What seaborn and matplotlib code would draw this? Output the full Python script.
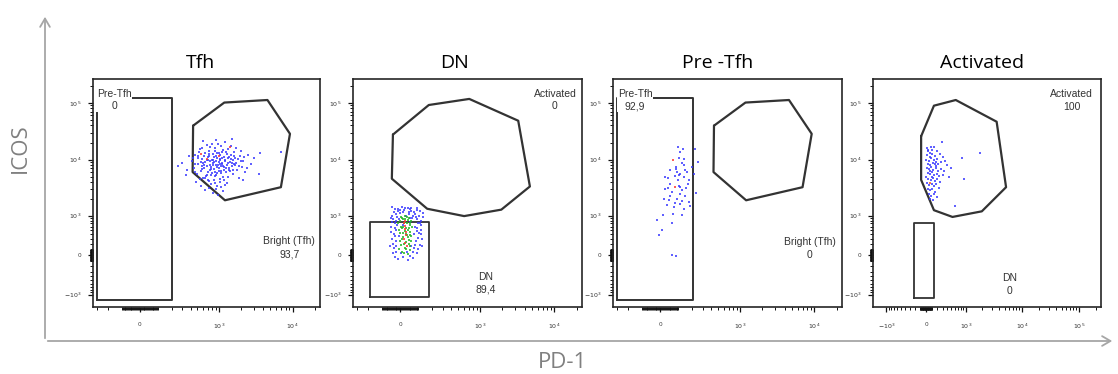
import matplotlib
matplotlib.use("Agg")
import matplotlib.pyplot as plt
import seaborn as sns
from matplotlib.patches import FancyArrowPatch

sns.set_theme(style="white")
plt.rcParams['font.family'] = ['Open Sans', 'DejaVu Sans']

# ---- datos (PD-1, ICOS) ----
titulos = ["Tfh", "DN", "Pre -Tfh", "Activated"]

# panel Tfh: poblacion dentro del gate Bright (Tfh)
tfh_pts = [
    (420, 9500), (450, 7200), (470, 12000), (500, 5600), (520, 8300), (540, 15500), (560, 6400), (580, 10400), (600, 4700), (610, 8900),
    (630, 7000), (650, 13000), (660, 5200), (680, 9800), (700, 6100), (710, 11200), (730, 4200), (750, 8000), (760, 16800), (780, 7500),
    (800, 10000), (810, 5800), (830, 12500), (850, 6800), (860, 9000), (880, 3900), (890, 14000), (900, 8200), (920, 5400), (940, 10800),
    (950, 7300), (970, 19000), (990, 6200), (1000, 9200), (1020, 4600), (1040, 12000), (1060, 7800), (1080, 5900), (1100, 10500), (1120, 8500),
    (1150, 15000), (1180, 6600), (1200, 3600), (1230, 9600), (1260, 7100), (1290, 12800), (1320, 5000), (1350, 8800), (1390, 11000), (1420, 6300),
    (1460, 17500), (1500, 7700), (1540, 9900), (1580, 5500), (1630, 13500), (1680, 8100), (1740, 6700), (1800, 10200), (1880, 4800), (1950, 11800),
    (2050, 7400), (2150, 9300), (2300, 6000), (2500, 12300), (2700, 8400), (560, 3400), (640, 2900), (720, 3200), (820, 2600), (900, 3000),
    (980, 2400), (1060, 3300), (1150, 2800), (700, 4400), (780, 3700), (600, 21000), (900, 22000), (1200, 20500), (1500, 23000), (800, 18500),
    (350, 6500), (300, 8600), (260, 7800), (380, 11500), (340, 5300), (480, 4100), (440, 10800), (530, 13800), (1700, 16000), (2000, 14500),
    (3600, 13200), (7000, 13700), (3500, 5500), (2100, 4300), (3000, 10500), (620, 11800), (740, 14500), (870, 6000), (1010, 13200), (1130, 4900),
    (680, 7600), (760, 9400), (840, 8600), (920, 11500), (1000, 7000), (1090, 8900), (1250, 6000), (1400, 9100), (1600, 11400), (560, 9100),
    (470, 6000), (520, 10800), (580, 7700), (640, 9200), (690, 5400), (740, 11800), (790, 6900), (840, 9700), (890, 5100), (930, 12900),
    (960, 8000), (1030, 10400), (1070, 6400), (1110, 13900), (1170, 7400), (1210, 9900), (1280, 8200), (1330, 10900), (1370, 7200), (1440, 12200),
    (1520, 8700), (1560, 6600), (1650, 10600), (1720, 8900), (1850, 7800), (1980, 9500), (2200, 11000), (2400, 7100), (650, 4800), (770, 5300),
    (860, 4300), (950, 3500), (1050, 4000), (1160, 4400), (1300, 3900), (580, 15800), (690, 18200), (880, 16300), (1080, 17600), (1320, 15200),
    (460, 8400), (510, 11400), (590, 6800), (720, 12600), (820, 7900), (910, 9600), (1030, 8400), (1190, 11300), (1360, 6700), (1620, 8300),
    (750, 6600), (850, 11000), (950, 5900), (1050, 9800), (1140, 7600), (620, 8000), (700, 10000), (1250, 13600), (1480, 10200), (540, 4500),
]
tfh_rojo = [(680, 10300), (1000, 11800), (560, 12500), (1400, 17000)]

# panel DN: columna cerca de cero
dn_azul = [
    (-30, 1300), (10, 1450), (60, 1380), (110, 1200), (-45, 1000), (130, 950), (-20, 800), (95, 850), (-50, 600), (120, 650),
    (-35, 400), (105, 420), (-40, 200), (110, 180), (-25, 60), (90, 30), (-10, -60), (40, -80), (70, -50), (0, 1100),
    (45, 1150), (80, 1050), (20, 1250), (-15, 950), (65, 900), (100, 700), (-30, 700), (-45, 300), (125, 300), (80, 600),
    (-20, 500), (55, 750), (30, 1000), (-5, 350), (85, 250), (15, 650), (-35, 120), (100, 100), (60, 150), (-25, 250),
    (35, 50), (75, 400), (115, 500), (-40, 850), (5, 40), (50, 1300), (-10, 1350), (90, 1250),
    (-35, 1150), (0, 1280), (40, 1400), (75, 1150), (105, 1000), (-50, 900), (115, 800), (-45, 750), (90, 550), (-30, 550),
    (120, 400), (-50, 450), (-20, 150), (75, 120), (15, -40), (55, -20), (-30, -30), (100, 320), (-40, 30), (110, 700),
    (-10, 1200), (60, 1200), (85, 950), (-25, 1050), (25, 1380), (95, 1400), (-45, 1450), (130, 1100), (-55, 150), (125, 150),
    (45, 1050), (70, 1000), (-15, 650), (95, 480), (-30, 350), (80, 180), (15, 1150), (50, 900), (-5, 850), (70, 50),
]
dn_verde = [
    (10, 900), (25, 750), (40, 820), (5, 600), (30, 550), (50, 650), (15, 420), (35, 380), (55, 450), (0, 250),
    (20, 200), (45, 280), (30, 100), (10, 50), (40, 20), (25, 980), (60, 350), (-5, 500), (50, 150), (20, 700),
    (0, 800), (15, 850), (45, 900), (60, 780), (35, 700), (-10, 700), (10, 550), (45, 560), (65, 600), (25, 480),
    (0, 420), (50, 380), (15, 330), (40, 330), (60, 250), (5, 180), (30, 240), (55, 90), (20, 30), (-5, 100),
    (35, 930), (25, 850), (5, 950), (40, 500), (15, 600), (30, 400), (45, 200), (10, 300), (25, 120), (50, 720),
]
dn_rojo = [(25, 620), (30, 450), (20, 300), (35, 150), (28, 800), (22, 700), (27, 530), (33, 370), (24, 220)]

# panel Pre-Tfh
pre_pts = [
    (100, 16600), (133, 15600), (222, 15200), (245, 9200), (126, 8800), (196, 7300), (148, 6500), (93, 6100), (114, 5700), (160, 6100),
    (27, 5000), (39, 4700), (79, 5100), (108, 5300), (136, 5000), (213, 5500), (172, 4300), (54, 3750), (103, 3500), (114, 3330),
    (155, 3120), (39, 3120), (63, 2700), (126, 2900), (228, 2580), (18, 2000), (50, 2270), (93, 2000), (126, 1880), (79, 1720),
    (36, 1550), (114, 1660), (172, 1760), (184, 1500), (69, 1070), (126, 1010), (14, 1010), (-18, 820), (63, 700), (9, 500),
    (-9, 376), (63, 0), (88, -17), (103, 10900), (141, 7900), (88, 7500), (54, 6500), (165, 3750), (110, 2450), (148, 2270),
    (73, 1420), (136, 1330), (45, 1930), (97, 4300), (27, 3000), (141, 10300), (114, 13400), (87, 6900),
]
pre_rojo = [(69, 10000), (83, 3250)]

# panel Activated
act_pts = [
    (10, 16000), (40, 15000), (80, 17000), (130, 16500), (200, 14500), (285, 20800), (20, 12000), (60, 13000), (110, 12500), (160, 11500),
    (240, 12800), (300, 11000), (0, 10000), (50, 9500), (90, 10500), (140, 9800), (190, 10200), (260, 9000), (350, 9600), (30, 8500),
    (70, 8000), (120, 8800), (170, 7800), (220, 8300), (400, 8200), (10, 7200), (45, 6800), (85, 7400), (125, 6500), (165, 7000),
    (210, 6300), (270, 6900), (330, 6200), (25, 5900), (60, 5500), (100, 6000), (140, 5300), (185, 5700), (230, 5100), (300, 5400),
    (5, 4900), (40, 4600), (80, 4300), (115, 4800), (150, 4200), (200, 4500), (250, 4000), (20, 3900), (55, 3600), (95, 3800),
    (130, 3400), (175, 3700), (225, 3200), (35, 3100), (75, 2900), (110, 3000), (160, 2700), (50, 2500), (90, 2300), (140, 2500),
    (200, 2200), (60, 2000), (120, 1900), (850, 10900), (920, 4600), (1800, 13000), (615, 1480), (500, 7000), (450, 5000), (30, 14000),
    (100, 14800), (65, 11200), (150, 8400), (105, 5000), (75, 6200), (180, 9200),
]
act_rojo = [(68, 3850)]

# gates
gate_bright_x = [435, 1185, 4560, 9190, 6930, 1210, 428]
gate_bright_y = [39600, 101000, 112000, 28500, 3270, 1910, 6050]
gate_pre = (-306, 202, -1260, 123000)          # x0, x1, y0, y1
gate_act2_x = [-39, 172, 713, 3270, 4690, 1940, 605, 160, -45]
gate_act2_y = [27600, 91500, 117000, 48400, 3370, 1290, 976, 1340, 4620]
gate_dn2 = (-184, 172, -1120, 748)
gate_act4_x = [-84, 136, 633, 3610, 5290, 1970, 538, 136, -84]
gate_act4_y = [25800, 89000, 112000, 46500, 3270, 1200, 940, 1260, 4410]
gate_dn4 = (-219, 136, -1150, 730)

# etiquetas de los gates (texto, porcentaje)
etq_tfh = [("Pre-Tfh", "0"), ("Bright (Tfh)", "93,7")]
etq_dn = [("Activated", "0"), ("DN", "89,4")]
etq_pre = [("Pre-Tfh", "92,9"), ("Bright (Tfh)", "0")]
etq_act = [("Activated", "100"), ("DN", "0")]

# ---- figura ----
W, H = 1118, 374
fig = plt.figure(figsize=(W / 100, H / 100), dpi=100)

caja = [(93, 227), (353, 229), (613, 229), (873, 228)]
top_px, bot_px = 79, 307

AZUL = '#3a3aff'
LINEA = '#333333'


def minor_ticks(lo, hi):
    t = [v for v in range(-95, 100, 5) if v != 0]
    t += [s * v for v in range(100, 1000, 100) for s in (-1, 1)]
    for dec in (1000, 10000, 100000):
        t += [k * dec for k in range(2, 10)]
        t += [-k * dec for k in range(2, 10)]
    return [v for v in t if lo < v < hi]


def puntos(ax, pts, color, s=2.2, alpha=0.8):
    xs = [p[0] for p in pts]
    ys = [p[1] for p in pts]
    sns.scatterplot(x=xs, y=ys, ax=ax, color=color, s=s, marker='s',
                    linewidth=0, alpha=alpha, legend=False, zorder=3)


def rect(ax, g, lw=1.4):
    x0, x1, y0, y1 = g
    ax.plot([x0, x1, x1, x0, x0], [y0, y0, y1, y1, y0], color=LINEA, lw=lw, zorder=2)


def poly(ax, xs, ys, lw=1.6):
    ax.plot(xs + xs[:1], ys + ys[:1], color=LINEA, lw=lw, zorder=2)


config = [
    dict(nube=[(tfh_pts, AZUL), (tfh_rojo, '#ff3333')], lw=172, xlim=(-349, 23400),
         etq=etq_tfh, pos=[(0.093, 0.958), (0.865, 0.31)], tx=0.474),
    dict(nube=[(dn_azul, AZUL), (dn_verde, '#22b822'), (dn_rojo, '#ff3030')], lw=172, xlim=(-349, 23400),
         etq=etq_dn, pos=[(0.882, 0.958), (0.581, 0.153)], tx=0.445),
    dict(nube=[(pre_pts, AZUL), (pre_rojo, '#ff3333')], lw=172, xlim=(-349, 23400),
         etq=etq_pre, pos=[(0.096, 0.958), (0.86, 0.305)], tx=0.457),
    dict(nube=[(act_pts, AZUL), (act_rojo, '#ff5522')], lw=420, xlim=(-1760, 244000),
         etq=etq_act, pos=[(0.871, 0.955), (0.60, 0.15)], tx=0.48),
]

ylim = (-1690, 262144)
for i, (cfg, (left, width)) in enumerate(zip(config, caja)):
    ax = fig.add_axes([left / W, 1 - bot_px / H, width / W, (bot_px - top_px) / H])
    for pts, col in cfg['nube']:
        puntos(ax, pts, col)

    if i in (0, 2):
        poly(ax, gate_bright_x, gate_bright_y)
        rect(ax, gate_pre)
    elif i == 1:
        poly(ax, gate_act2_x, gate_act2_y)
        rect(ax, gate_dn2, lw=1.3)
    else:
        poly(ax, gate_act4_x, gate_act4_y)
        rect(ax, gate_dn4, lw=1.3)

    ax.set_xscale('asinh', linear_width=cfg['lw'])
    ax.set_yscale('asinh', linear_width=420)
    ax.set_xlim(*cfg['xlim'])
    ax.set_ylim(*ylim)

    ax.set_yticks([-1000, 0, 1000, 10000, 100000],
                  ['$-10^{3}$', '0', '$10^{3}$', '$10^{4}$', '$10^{5}$'])
    ax.set_yticks(minor_ticks(*ylim), minor=True)
    if cfg['lw'] == 172:
        ax.set_xticks([0, 1000, 10000], ['0', '$10^{3}$', '$10^{4}$'])
    else:
        ax.set_xticks([-1000, 0, 1000, 10000, 100000],
                      ['$-10^{3}$', '0', '$10^{3}$', '$10^{4}$', '$10^{5}$'])
    ax.set_xticks(minor_ticks(*cfg['xlim']), minor=True)

    ax.tick_params(which='major', direction='out', length=3.5, width=0.9, color='#111111',
                   labelsize=4.5, labelcolor='#333333', left=True, bottom=True)
    ax.tick_params(axis='x', which='major', pad=7)
    ax.tick_params(axis='y', which='major', pad=5)
    ax.tick_params(which='minor', direction='out', length=2.2, width=0.7, color='#111111',
                   left=True, bottom=True)
    ax.set_xlabel('')
    ax.set_ylabel('')
    for sp in ax.spines.values():
        sp.set_color('#262626')
        sp.set_linewidth(1.2)

    for (nombre, valor), (fx, fy) in zip(cfg['etq'], cfg['pos']):
        ax.text(fx, fy, f"{nombre}\n{valor}", transform=ax.transAxes, ha='center', va='top',
                multialignment='center', fontsize=7.5, family=['Liberation Sans', 'DejaVu Sans'],
                color='#333333', linespacing=1.35, zorder=5,
                bbox=dict(facecolor='white', edgecolor='none', pad=0.4))

    ax.text(cfg['tx'], 1.07, titulos[i], transform=ax.transAxes, ha='center', va='center',
            fontsize=14, color='black')

# ejes grandes con flecha
gris = '#a6a6a6'
ox, oy = 45 / W, 1 - 341 / H
fig.add_artist(FancyArrowPatch((ox, oy), (ox, 1 - 14 / H), transform=fig.transFigure,
                               arrowstyle='->,head_length=0.6,head_width=0.35', mutation_scale=10,
                               color=gris, lw=1.3))
fig.add_artist(FancyArrowPatch((ox, oy), (1115 / W, oy), transform=fig.transFigure,
                               arrowstyle='->,head_length=0.6,head_width=0.35', mutation_scale=10,
                               color=gris, lw=1.3))
fig.text(20 / W, 1 - 148 / H, "ICOS", rotation=90, ha='center', va='center',
         fontsize=16, color='#808080')
fig.text(562 / W, 1 - 362 / H, "PD-1", ha='center', va='center', fontsize=16, color='#808080')

fig.savefig("out.png", dpi=100)
